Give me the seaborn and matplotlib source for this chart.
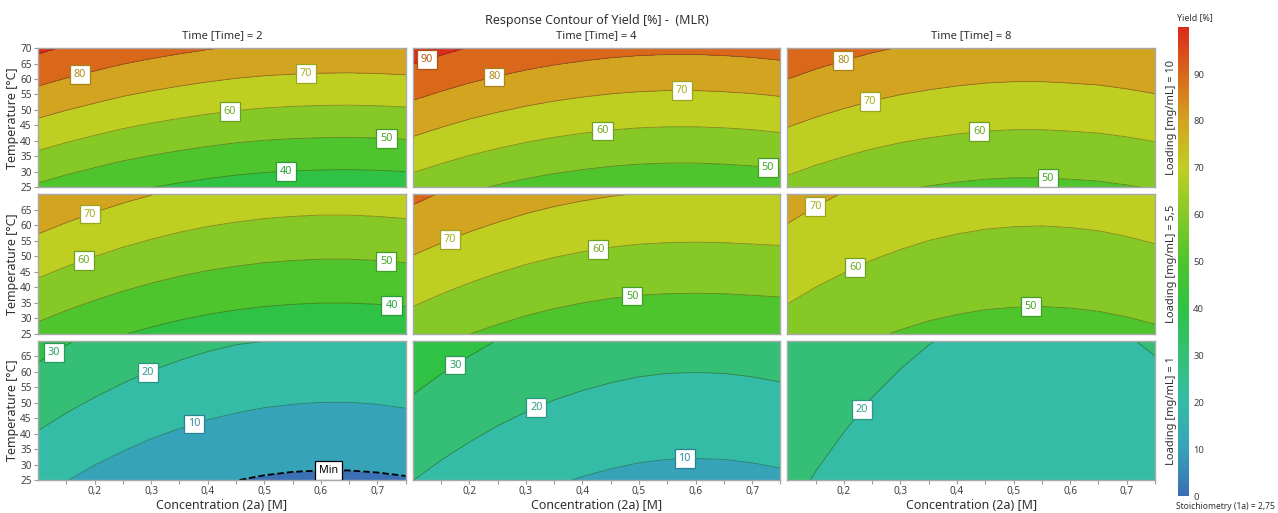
import matplotlib
matplotlib.use("Agg")
import matplotlib.pyplot as plt
import seaborn as sns
import numpy as np
from matplotlib.colors import Normalize
from matplotlib.colorbar import ColorbarBase

# axes of the response grid
concentration = [0.10, 0.15, 0.20, 0.25, 0.30, 0.35, 0.40, 0.45, 0.50, 0.55, 0.60, 0.65, 0.70, 0.75]
temperature = [25, 47.5, 70]
times = [2, 4, 8]
loadings = ["10", "5,5", "1"]

# Yield [%]; rows = temperature 25 / 47.5 / 70
yield_load10_time2 = [
    [48.6, 46.1, 43.9, 41.8, 40.1, 38.6, 37.3, 36.2, 35.4, 34.9, 34.6, 34.5, 34.7, 35.1],
    [70.2, 67.7, 65.5, 63.4, 61.7, 60.2, 58.9, 57.8, 57.0, 56.5, 56.2, 56.1, 56.3, 56.7],
    [91.8, 89.3, 87.1, 85.0, 83.3, 81.8, 80.5, 79.4, 78.6, 78.1, 77.8, 77.7, 77.9, 78.3],
]
yield_load10_time4 = [
    [56.0, 53.5, 51.2, 49.3, 47.6, 46.2, 45.1, 44.2, 43.6, 43.3, 43.3, 43.6, 44.1, 44.9],
    [75.2, 72.7, 70.4, 68.5, 66.8, 65.4, 64.3, 63.4, 62.8, 62.5, 62.5, 62.8, 63.3, 64.1],
    [94.5, 92.0, 89.7, 87.8, 86.1, 84.7, 83.6, 82.7, 82.1, 81.8, 81.8, 82.1, 82.6, 83.4],
]
yield_load10_time8 = [
    [57.5, 55.4, 53.6, 52.0, 50.7, 49.7, 48.9, 48.3, 48.0, 48.0, 48.3, 48.7, 49.5, 50.5],
    [72.0, 69.9, 68.1, 66.5, 65.2, 64.2, 63.4, 62.8, 62.5, 62.5, 62.8, 63.2, 64.0, 65.0],
    [86.5, 84.4, 82.6, 81.0, 79.7, 78.7, 77.9, 77.3, 77.0, 77.0, 77.3, 77.7, 78.5, 79.5],
]
yield_load5_time2 = [
    [47.3, 44.7, 42.4, 40.3, 38.5, 36.9, 35.6, 34.6, 33.8, 33.3, 33.0, 33.0, 33.3, 33.8],
    [63.2, 60.6, 58.3, 56.2, 54.4, 52.8, 51.5, 50.5, 49.7, 49.2, 48.9, 48.9, 49.2, 49.7],
    [79.0, 76.4, 74.1, 72.0, 70.2, 68.6, 67.3, 66.3, 65.5, 65.0, 64.7, 64.7, 65.0, 65.5],
]
yield_load5_time4 = [
    [54.7, 52.3, 50.1, 48.2, 46.5, 45.1, 44.0, 43.1, 42.5, 42.2, 42.1, 42.2, 42.5, 42.9],
    [68.3, 65.9, 63.7, 61.8, 60.1, 58.7, 57.6, 56.7, 56.1, 55.8, 55.7, 55.8, 56.1, 56.4],
    [82.0, 79.6, 77.4, 75.5, 73.8, 72.4, 71.3, 70.4, 69.8, 69.5, 69.4, 69.5, 69.7, 69.9],
]
yield_load5_time8 = [
    [56.3, 54.2, 52.4, 50.8, 49.5, 48.4, 47.6, 47.0, 46.7, 46.6, 46.8, 47.2, 47.9, 48.8],
    [65.0, 62.9, 61.1, 59.5, 58.2, 57.1, 56.3, 55.7, 55.4, 55.3, 55.5, 55.9, 56.6, 57.5],
    [73.6, 71.5, 69.7, 68.1, 66.8, 65.7, 64.9, 64.3, 64.0, 63.9, 64.1, 64.5, 65.2, 66.1],
]
yield_load1_time2 = [
    [12.7, 10.2, 7.8, 5.8, 3.9, 2.4, 1.1, 0.1, -0.7, -1.2, -1.4, -1.4, -1.1, -0.6],
    [23.0, 20.4, 18.1, 16.0, 14.2, 12.7, 11.4, 10.4, 9.6, 9.1, 8.8, 8.8, 9.1, 9.7],
    [33.2, 30.7, 28.3, 26.3, 24.4, 22.9, 21.6, 20.6, 20.1, 19.6, 19.3, 19.2, 19.4, 19.9],
]
yield_load1_time4 = [
    [20.1, 17.7, 15.6, 13.7, 12.1, 10.7, 9.6, 8.7, 8.0, 7.6, 7.5, 7.6, 8.0, 8.6],
    [28.2, 25.8, 23.7, 21.8, 20.2, 18.8, 17.7, 16.8, 16.1, 15.7, 15.6, 15.7, 16.1, 16.7],
    [36.3, 33.9, 31.8, 29.9, 28.3, 26.9, 25.8, 24.9, 24.2, 23.8, 23.7, 23.8, 24.2, 24.8],
]
yield_load1_time8 = [
    [21.7, 19.6, 17.8, 16.2, 14.9, 13.8, 13.0, 12.4, 12.1, 12.1, 12.2, 12.7, 13.3, 14.3],
    [24.9, 22.8, 21.0, 19.4, 18.1, 17.0, 16.2, 15.6, 15.3, 15.3, 15.4, 15.9, 16.5, 17.5],
    [28.1, 26.0, 24.2, 22.6, 21.3, 20.2, 19.4, 18.8, 18.5, 18.5, 18.6, 19.1, 19.7, 20.7],
]

grids = [
    [yield_load10_time2, yield_load10_time4, yield_load10_time8],
    [yield_load5_time2, yield_load5_time4, yield_load5_time8],
    [yield_load1_time2, yield_load1_time4, yield_load1_time8],
]

# where each contour label sits (concentration, temperature)
label_spots = [
    [[(0.174, 61.3), (0.574, 62.0), (0.439, 49.5), (0.716, 40.7), (0.539, 30.2)],
     [(0.126, 65.9), (0.245, 60.0), (0.576, 55.7), (0.436, 42.5), (0.728, 31.3)],
     [(0.199, 65.9), (0.246, 52.4), (0.439, 42.9), (0.560, 27.8)]],
    [[(0.193, 63.2), (0.181, 48.5), (0.716, 48.5), (0.725, 34.2)],
     [(0.166, 55.3), (0.428, 52.1), (0.488, 36.9)],
     [(0.151, 65.6), (0.220, 46.3), (0.530, 33.9)]],
    [[(0.131, 65.3), (0.296, 58.9), (0.377, 42.7)],
     [(0.176, 61.9), (0.319, 48.1), (0.581, 31.6)],
     [(0.231, 47.8)]],
]
min_spot = (0.614, 28.3)

fill_levels = [-20, 0, 10, 20, 30, 40, 50, 60, 70, 80, 90, 100]
line_levels = [10, 20, 30, 40, 50, 60, 70, 80, 90]
band_colors = ["#3b70b5", "#37a3b9", "#35bca6", "#35bf76", "#30c244", "#4ec52c",
               "#86c927", "#bfcf21", "#d3a420", "#d9681b", "#dc2b1c"]
bar_anchor_colors = ["#3b6eb4", "#37a3b9", "#35bca6", "#35bf76", "#30c244", "#4ec52c",
                     "#86c927", "#bfcf21", "#d3a420", "#d9681b", "#dc2b1c"]

sns.set_theme(style="white")
plt.rcParams["font.family"] = ["Noto Sans", "DejaVu Sans"]
bar_cmap = sns.blend_palette(bar_anchor_colors, as_cmap=True)

fig, axes = plt.subplots(3, 3, figsize=(12.78, 5.13), dpi=100)
fig.subplots_adjust(left=0.0297, right=0.9038, top=0.9064, bottom=0.0643,
                    wspace=0.019, hspace=0.05)


def style_label(t, edge, text_col):
    t.set_rotation(0)
    t.set_color(text_col)
    t.set_bbox(dict(boxstyle="square,pad=0.36", fc="white", ec=edge, lw=0.9))
    t.set_zorder(5)


X, Y = np.meshgrid(concentration, temperature)
for r in range(3):
    for c in range(3):
        ax = axes[r, c]
        Z = np.array(grids[r][c])
        ax.contourf(X, Y, Z, levels=fill_levels, colors=band_colors)
        lines = ax.contour(X, Y, Z, levels=line_levels,
                           colors="#202020", linewidths=0.6, alpha=0.4)
        labs = ax.clabel(lines, manual=label_spots[r][c], inline=False,
                         fmt="%d", fontsize=7.8)
        for t in labs:
            lev = float(t.get_text())
            col = bar_cmap(lev / 100)
            style_label(t, tuple(v * 0.8 for v in col[:3]), tuple(v * 0.85 for v in col[:3]))
        if r == 2 and c == 0:
            mn = ax.contour(X, Y, Z, levels=[0], colors="black", linewidths=1.3,
                            linestyles="--")
            labs = ax.clabel(mn, manual=[min_spot], inline=False,
                             fmt={0: "Min"}, fontsize=7.8)
            for t in labs:
                style_label(t, "black", "black")

        ax.set_xlim(0.1, 0.75)
        ax.set_ylim(25, 70)
        for sp in ax.spines.values():
            sp.set_color("#a8a8a8")
            sp.set_linewidth(1.0)
        ax.set_xticks([0.2, 0.3, 0.4, 0.5, 0.6, 0.7])
        ax.set_xticks([0.15, 0.25, 0.35, 0.45, 0.55, 0.65, 0.75], minor=True)
        yt = list(range(25, 75, 5)) if r == 0 else list(range(25, 70, 5))
        ax.set_yticks(yt)
        ax.tick_params(axis="both", which="both", length=3, width=0.8, color="#9a9a9a",
                       labelsize=7.2, labelcolor="#404040", pad=1.5, direction="out")
        if r == 2:
            ax.set_xticklabels(["0,2", "0,3", "0,4", "0,5", "0,6", "0,7"])
            ax.set_xlabel("Concentration (2a) [M]", fontsize=9, color="#303030", labelpad=1)
            ax.tick_params(axis="x", which="both", bottom=True)
        else:
            ax.tick_params(axis="x", which="both", bottom=False, labelbottom=False)
        if c == 0:
            ax.set_yticklabels([str(v) for v in yt])
            ax.set_ylabel("Temperature [°C]", fontsize=9, color="#303030", labelpad=1)
            ax.tick_params(axis="y", left=True)
        else:
            ax.tick_params(axis="y", left=False, labelleft=False)
        if r == 0:
            ax.set_title(f"Time [Time] = {times[c]}", fontsize=8, color="#303030", pad=7)
        if c == 2:
            ax.text(1.045, 0.5, f"Loading [mg/mL] = {loadings[r]}", transform=ax.transAxes,
                    rotation=90, ha="center", va="center", fontsize=8, color="#303030")

fig.suptitle("Response Contour of Yield [%] -  (MLR)", x=0.467, y=0.961, va="center",
             fontsize=9, color="#303030")

cax = fig.add_axes([0.9218, 0.0331, 0.0086, 0.914])
cb = ColorbarBase(cax, cmap=bar_cmap, norm=Normalize(0, 100), ticks=list(range(0, 100, 10)))
cb.outline.set_visible(False)
cax.tick_params(length=0, labelsize=6.8, labelcolor="#404040", pad=3)
fig.text(0.9210, 0.965, "Yield [%]", fontsize=6.4, color="#303030", ha="left", va="center")
fig.text(0.9205, 0.012, "Stoichiometry (1a) = 2,75", fontsize=6.1, color="#303030",
         ha="left", va="center")

fig.savefig("out.png", dpi=100)
